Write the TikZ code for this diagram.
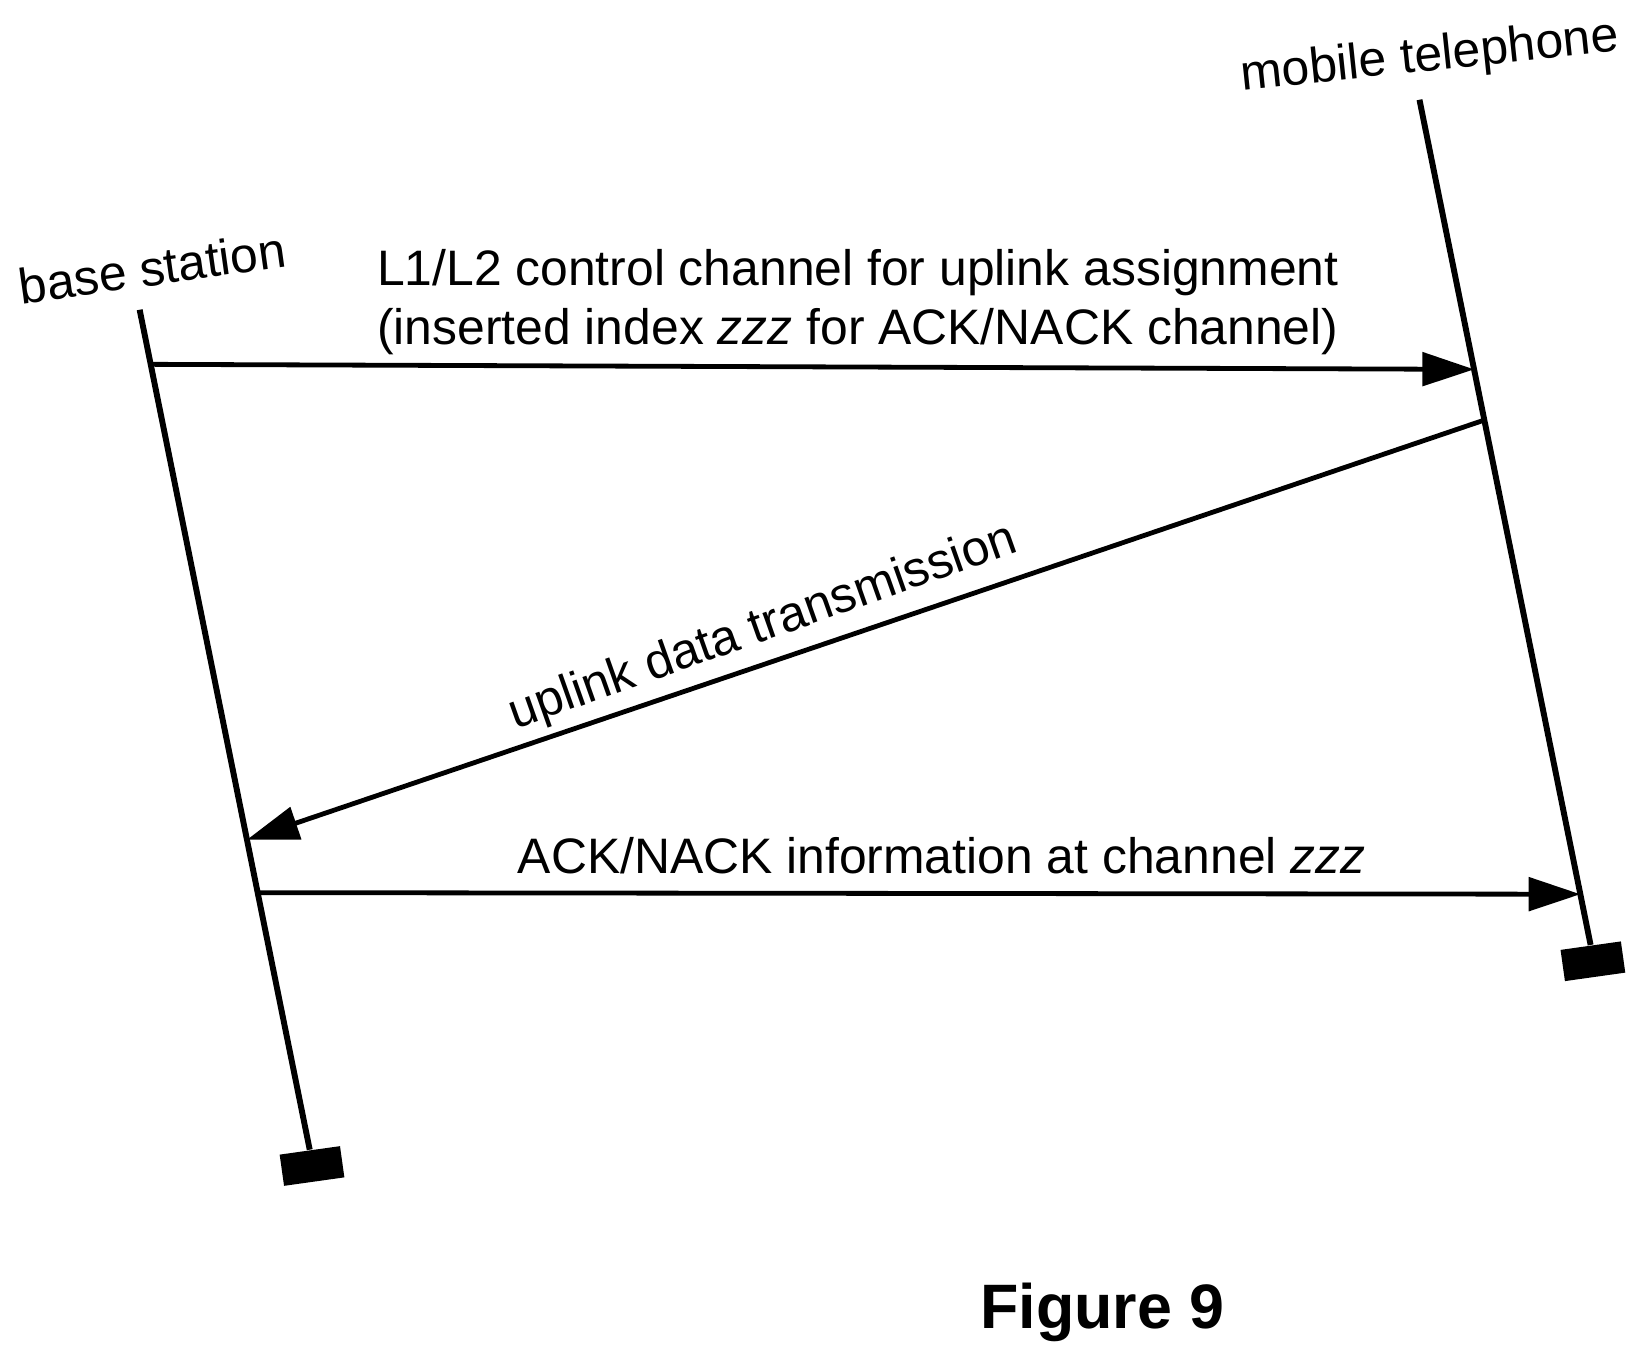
\documentclass[tikz,border=0pt]{standalone}
\usepackage{fontspec}
\setmainfont{Liberation Sans}
\usetikzlibrary{calc, arrows.meta}

\begin{document}
\begin{tikzpicture}[x=0.01cm, y=-0.01cm,
		lifeline/.style={line width=1.6pt},
		msg/.style={line width=1.3pt, -{Triangle[length=14pt, width=9pt]}},
		endbox/.style={fill=black, minimum width=0.58cm, minimum height=0.3cm, inner sep=0pt},
		lbl/.style={font=\fontsize{13.5}{16}\selectfont, align=center}
	]
	\useasboundingbox (0,0) rectangle (1563,1293);
	% lifelines
	\coordinate (bsTop) at (133,295);
	\coordinate (bsBot) at (295,1095);
	\coordinate (mtTop) at (1352,95);
	\coordinate (mtBot) at (1515,900);
	\draw [lifeline] (bsTop) -- (bsBot);
	\draw [lifeline] (mtTop) -- (mtBot);
	\node (bsEnd) [endbox, rotate=8, anchor=north] at (bsBot) {};
	\node (mtEnd) [endbox, rotate=8, anchor=north] at (mtBot) {};
	\node (bs) [lbl, rotate=8] at (145,255) {base station};
	\node (mt) [lbl, rotate=6] at (1362,55) {mobile telephone};
	% messages
	\coordinate (bs1) at ($(bsTop)!0.065!(bsBot)$);
	\coordinate (mt1) at ($(mtTop)!0.319!(mtBot)$);
	\coordinate (mt2) at ($(mtTop)!0.379!(mtBot)$);
	\coordinate (bs2) at ($(bsTop)!0.631!(bsBot)$);
	\coordinate (bs3) at ($(bsTop)!0.694!(bsBot)$);
	\coordinate (mt3) at ($(mtTop)!0.94!(mtBot)$);
	\draw [msg] (bs1) -- (mt1);
	\draw [msg] (mt2) -- (bs2);
	\draw [msg] (bs3) -- (mt3);
	\node (ctrl) [lbl] at (817,288) {L1/L2 control channel for uplink assignment\\(inserted index \textit{zzz} for ACK/NACK channel)};
	\node (ul) [lbl, rotate=19.5] at (727,598) {uplink data transmission};
	\node (ack) [lbl] at (897,815) {ACK/NACK information at channel \textit{zzz}};
	\node (fig) [font=\fontsize{17}{20}\selectfont\bfseries] at (1050,1250) {Figure 9};
\end{tikzpicture}
\end{document}
